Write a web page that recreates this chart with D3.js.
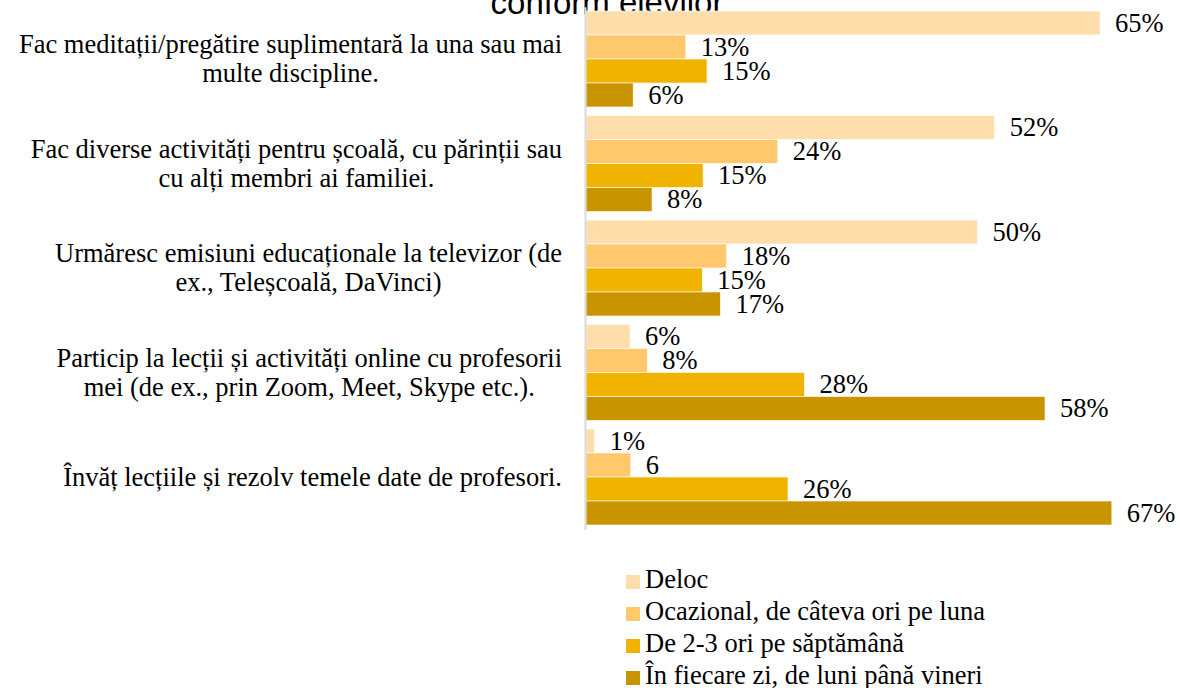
<!DOCTYPE html>
<html>
<head>
<meta charset="utf-8">
<script src="https://cdn.jsdelivr.net/npm/d3@7"></script>
<style>
  html, body { margin: 0; padding: 0; background: #fff; }
  svg { display: block; }
</style>
</head>
<body>
<svg id="chart" width="1180" height="688"></svg>
<script>
// ---------- DATA ----------
const titleText = "conform elevilor";
const categories = [
  "Fac meditații/pregătire suplimentară la una sau mai\nmulte discipline.",
  "Fac diverse activități pentru școală, cu părinții sau\ncu alți membri ai familiei.",
  "Urmăresc emisiuni educaționale la televizor (de\nex., Teleșcoală, DaVinci)",
  "Particip la lecții și activități online cu profesorii\nmei (de ex., prin Zoom, Meet, Skype etc.).",
  "Învăț lecțiile și rezolv temele date de profesori."
];
const seriesNames = [
  "Deloc",
  "Ocazional, de câteva ori pe luna",
  "De 2-3 ori pe săptămână",
  "În fiecare zi, de luni până vineri"
];
const deloc      = [65.4, 52.0, 49.8, 5.6, 1.1];
const ocazional  = [12.7, 24.4, 17.9, 7.8, 5.7];
const deDouaTrei = [15.4, 14.9, 14.8, 27.8, 25.7];
const zilnic     = [6.0, 8.4, 17.1, 58.4, 66.9];

const delocLabels      = ["65%", "52%", "50%", "6%", "1%"];
const ocazionalLabels  = ["13%", "24%", "18%", "8%", "6"];
const deDouaTreiLabels = ["15%", "15%", "15%", "28%", "26%"];
const zilnicLabels     = ["6%", "8%", "17%", "58%", "67%"];

const seriesColors = ["#FFDEAB", "#FFC86C", "#F0B400", "#C89500"];

// ---------- LAYOUT ----------
const serif = "'Liberation Serif', 'Times New Roman', serif";
const fontSize = 26.5;
const svg = d3.select("#chart");

const seriesValues = [deloc, ocazional, deDouaTrei, zilnic];
const seriesLabels = [delocLabels, ocazionalLabels, deDouaTreiLabels, zilnicLabels];

const x = d3.scaleLinear().domain([0, 100]).range([586, 1372]);
const y = d3.scaleBand().domain(categories).range([6.75, 529.25])
  .paddingInner(0.0813).paddingOuter(0.0407);
const ySub = d3.scaleBand().domain(seriesNames).range([0, y.bandwidth()]);

// title (only its lower part is in view)
svg.append("text")
  .attr("x", 607).attr("y", 14)
  .attr("text-anchor", "middle")
  .attr("font-family", "'Liberation Sans', Arial, sans-serif")
  .attr("font-size", 33)
  .attr("fill", "#000")
  .text(titleText);

// bars
const groups = svg.append("g").selectAll("g")
  .data(seriesNames)
  .join("g")
  .attr("fill", (d, i) => seriesColors[i]);

groups.each(function(name, si) {
  const g = d3.select(this);
  const rows = categories.map((c, ci) => ({ c, v: seriesValues[si][ci], label: seriesLabels[si][ci] }));
  g.selectAll("rect")
    .data(rows)
    .join("rect")
    .attr("x", x(0))
    .attr("y", d => y(d.c) + ySub(name))
    .attr("width", d => x(d.v) - x(0))
    .attr("height", ySub.bandwidth())
    .attr("stroke", "#fff")
    .attr("stroke-width", 0.6);
  g.selectAll("text")
    .data(rows)
    .join("text")
    .attr("x", d => x(d.v) + 15)
    .attr("y", d => y(d.c) + ySub(name) + ySub.bandwidth() / 2)
    .attr("dy", "0.33em")
    .attr("font-family", serif)
    .attr("font-size", fontSize)
    .attr("fill", "#000")
    .text(d => d.label);
});

// vertical category axis
const axis = svg.append("g")
  .attr("transform", `translate(585,0)`)
  .call(d3.axisLeft(y).tickSize(0).tickSizeOuter(0).tickFormat(""));
axis.select(".domain").attr("stroke", "#D9D9D9").attr("stroke-width", 2);
axis.selectAll(".tick").remove();

// category labels (block right-aligned, lines centred in block)
const labelRight = 562;
const lineH = 29;
categories.forEach(c => {
  const lines = c.split("\n");
  const g = svg.append("g");
  const texts = lines.map((ln, i) => g.append("text")
    .attr("font-family", serif)
    .attr("font-size", fontSize)
    .attr("fill", "#000")
    .attr("text-anchor", "middle")
    .text(ln));
  const maxW = d3.max(texts, t => t.node().getComputedTextLength());
  const cx = labelRight - maxW / 2;
  const cy = y(c) + y.bandwidth() / 2;
  const n = lines.length;
  texts.forEach((t, i) => {
    t.attr("x", cx)
     .attr("y", cy + (i - (n - 1) / 2) * lineH)
     .attr("dy", "0.33em");
  });
});

// legend
const legend = svg.append("g").selectAll("g")
  .data(seriesNames)
  .join("g")
  .attr("transform", (d, i) => `translate(626, ${575 + i * 32})`);
legend.append("rect")
  .attr("width", 14).attr("height", 14)
  .attr("fill", (d, i) => seriesColors[i]);
legend.append("text")
  .attr("x", 19).attr("y", 13)
  .attr("font-family", serif)
  .attr("font-size", fontSize)
  .attr("fill", "#000")
  .text(d => d);
</script>
</body>
</html>
